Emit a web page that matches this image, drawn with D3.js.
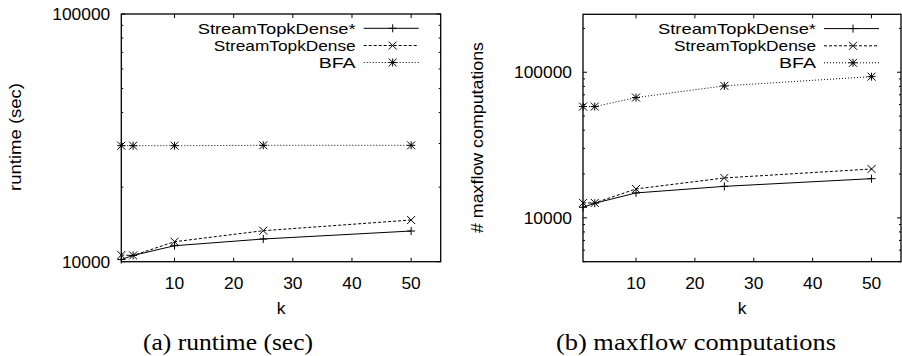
<!DOCTYPE html>
<html><head><meta charset="utf-8">
<script src="https://cdn.jsdelivr.net/npm/d3@7"></script>
<style>
html,body{margin:0;padding:0;background:#fff;}
svg{display:block;}
text{font-family:"Liberation Sans",Arial,sans-serif;fill:#000;}
.cap{font-family:"Liberation Serif","DejaVu Serif",serif;}
</style></head>
<body>
<svg id="c" width="902" height="356"></svg>
<script>
// ---- data ----
const kValues = [1, 3, 10, 25, 50];
const seriesNames = ["StreamTopkDense*", "StreamTopkDense", "BFA"];
const runtimeDenseStar = [10200, 10600, 11600, 12350, 13300];
const runtimeDense     = [10640, 10600, 12040, 13340, 14730];
const runtimeBFA       = [29400, 29400, 29400, 29500, 29500];
const maxflowDenseStar = [11820, 12600, 14830, 16460, 18580];
const maxflowDense     = [12670, 12670, 15800, 18800, 21660];
const maxflowBFA       = [58100, 58100, 67000, 80600, 93300];
const xTicks = [10, 20, 30, 40, 50];
const yTicksLeft = [10000, 100000];
const yTicksRight = [10000, 100000];
const yLabels = ["runtime (sec)", "# maxflow computations"];
const captions = ["(a) runtime (sec)", "(b) maxflow computations"];

const svg = d3.select("#c");
const styles = [
  {dash: null, marker: "plus"},
  {dash: "3,2", marker: "cross"},
  {dash: "1,2", marker: "star"}
];
const legendWidths = [158, 142, 37];

function markerPath(type, x, y) {
  const s = 4;
  const p = d3.path();
  if (type === "plus" || type === "star") {
    p.moveTo(x - s, y); p.lineTo(x + s, y);
    p.moveTo(x, y - s); p.lineTo(x, y + s);
  }
  if (type === "cross" || type === "star") {
    p.moveTo(x - s, y - s); p.lineTo(x + s, y + s);
    p.moveTo(x - s, y + s); p.lineTo(x + s, y - s);
  }
  return p.toString();
}

function panel(cfg) {
  const g = svg.append("g");
  const x = d3.scaleLinear().domain([1, 55]).range([cfg.x0, cfg.x1]);
  const y = d3.scaleLog().domain(cfg.ydom).range([cfg.y1, cfg.y0]);

  const lo = cfg.ydom[0], hi = cfg.ydom[1];
  const yt = [];
  for (let e = Math.floor(Math.log10(lo)); e <= Math.ceil(Math.log10(hi)); e++) {
    for (let m = 1; m <= 9; m++) {
      const v = m * Math.pow(10, e);
      if (v >= lo * 0.999 && v <= hi * 1.001) yt.push({v, major: m === 1});
    }
  }
  yt.forEach(t => {
    const len = t.major ? 4 : 2;
    const yy = y(t.v);
    g.append("line").attr("x1", cfg.x0).attr("x2", cfg.x0 + len).attr("y1", yy).attr("y2", yy)
      .attr("stroke", "#000").attr("stroke-width", 1);
    g.append("line").attr("x1", cfg.x1).attr("x2", cfg.x1 - len).attr("y1", yy).attr("y2", yy)
      .attr("stroke", "#000").attr("stroke-width", 1);
  });
  cfg.yTicks.forEach(v => {
    g.append("text").attr("x", cfg.x0 - 11).attr("y", y(v) + 6)
      .attr("text-anchor", "end").attr("font-size", 17.4).text(v);
  });
  xTicks.forEach(v => {
    const xx = x(v);
    g.append("line").attr("x1", xx).attr("x2", xx).attr("y1", cfg.y1).attr("y2", cfg.y1 - 4)
      .attr("stroke", "#000");
    g.append("line").attr("x1", xx).attr("x2", xx).attr("y1", cfg.y0).attr("y2", cfg.y0 + 4)
      .attr("stroke", "#000");
    g.append("text").attr("x", xx).attr("y", 288.5).attr("text-anchor", "middle")
      .attr("font-size", 17.4).text(v);
  });
  g.append("rect").attr("x", cfg.x0).attr("y", cfg.y0)
    .attr("width", cfg.x1 - cfg.x0).attr("height", cfg.y1 - cfg.y0)
    .attr("fill", "none").attr("stroke", "#000").attr("stroke-width", 1.3);

  const line = d3.line().x(d => x(d[0])).y(d => y(d[1]));
  cfg.series.forEach((vals, i) => {
    const pts = kValues.map((k, j) => [k, vals[j]]);
    g.append("path").attr("d", line(pts)).attr("fill", "none")
      .attr("stroke", "#000").attr("stroke-width", 1)
      .attr("stroke-dasharray", styles[i].dash);
    pts.forEach(p => {
      g.append("path").attr("d", markerPath(styles[i].marker, x(p[0]), y(p[1])))
        .attr("stroke", "#000").attr("stroke-width", 1).attr("fill", "none");
    });
  });

  const rows = [28.3, 45.5, 62.5];
  seriesNames.forEach((n, i) => {
    const ly = cfg.y0 + rows[i] - 14;
    g.append("text").attr("x", cfg.x1 - 85).attr("y", ly + 5.5).attr("text-anchor", "end")
      .attr("font-size", 15).attr("textLength", legendWidths[i])
      .attr("lengthAdjust", "spacingAndGlyphs").text(n);
    g.append("line").attr("x1", cfg.x1 - 77).attr("x2", cfg.x1 - 22).attr("y1", ly).attr("y2", ly)
      .attr("stroke", "#000").attr("stroke-dasharray", styles[i].dash);
    g.append("path").attr("d", markerPath(styles[i].marker, cfg.x1 - 48, ly))
      .attr("stroke", "#000").attr("fill", "none");
  });

  g.append("text").attr("transform", `translate(${cfg.ylabX},${cfg.ylabY}) rotate(-90)`)
    .attr("text-anchor", "middle").attr("dominant-baseline", "central")
    .attr("font-size", 17.4).attr("textLength", cfg.ylabLen)
    .attr("lengthAdjust", "spacingAndGlyphs").text(cfg.ylabel);
  g.append("text").attr("x", (cfg.x0 + cfg.x1) / 2).attr("y", 314).attr("text-anchor", "middle")
    .attr("font-size", 17.4).text("k");
  g.append("text").attr("class", "cap").attr("x", cfg.capX).attr("y", 350)
    .attr("text-anchor", "middle").attr("font-size", 23)
    .attr("textLength", cfg.capLen).attr("lengthAdjust", "spacingAndGlyphs").text(cfg.caption);
}

panel({x0: 121.3, x1: 440.7, y0: 14, y1: 261.7, ydom: [10000, 100000],
  yTicks: yTicksLeft, series: [runtimeDenseStar, runtimeDense, runtimeBFA],
  ylabel: yLabels[0], ylabX: 15, ylabY: 137, ylabLen: 108,
  caption: captions[0], capX: 228, capLen: 170});
panel({x0: 583, x1: 901, y0: 14.3, y1: 261.7, ydom: [5000, 250000],
  yTicks: yTicksRight, series: [maxflowDenseStar, maxflowDense, maxflowBFA],
  ylabel: yLabels[1], ylabX: 477, ylabY: 137.5, ylabLen: 191,
  caption: captions[1], capX: 696, capLen: 280});
</script>
</body></html>
